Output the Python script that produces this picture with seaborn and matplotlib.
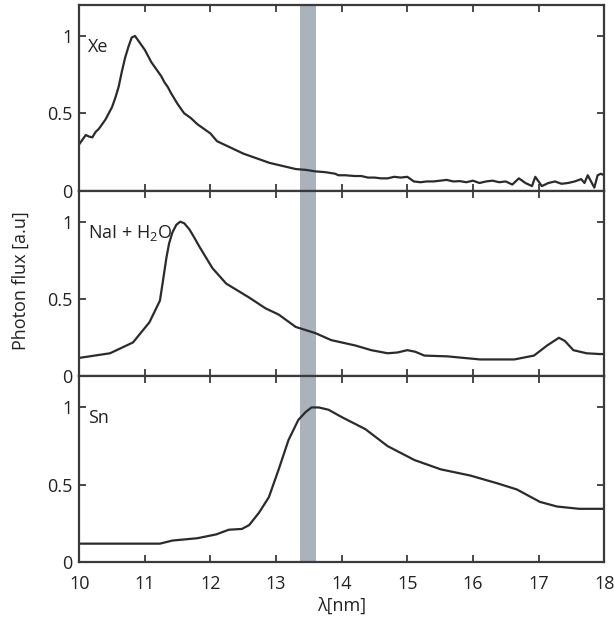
import matplotlib
matplotlib.use("Agg")
import matplotlib.pyplot as plt
import seaborn as sns
import pandas as pd

# Xe spectrum (noisy)
xe_wl = [10.0, 10.05, 10.1, 10.15, 10.2, 10.25, 10.3, 10.35, 10.4, 10.45, 10.5, 10.55,
         10.6, 10.65, 10.7, 10.75, 10.8, 10.85, 10.9, 10.95, 11.0, 11.05, 11.1, 11.15,
         11.2, 11.25, 11.3, 11.35, 11.4, 11.5, 11.6, 11.7, 11.8, 11.9, 12.0, 12.1, 12.2,
         12.3, 12.4, 12.5, 12.6, 12.7, 12.8, 12.9, 13.0, 13.1, 13.2, 13.3, 13.45, 13.6,
         13.75, 13.9, 13.95, 14.05, 14.2, 14.3, 14.4, 14.5, 14.6, 14.7, 14.8, 14.9, 15.0,
         15.1, 15.2, 15.3, 15.4, 15.5, 15.6, 15.7, 15.8, 15.9, 16.0, 16.1, 16.2, 16.3,
         16.4, 16.5, 16.6, 16.7, 16.8, 16.9, 16.95, 17.05, 17.15, 17.25, 17.35, 17.45,
         17.55, 17.65, 17.7, 17.75, 17.8, 17.85, 17.9, 17.95, 18.0]
xe_flux = [0.30, 0.33, 0.36, 0.35, 0.345, 0.38, 0.40, 0.43, 0.46, 0.50, 0.54, 0.60,
           0.67, 0.77, 0.86, 0.93, 0.99, 1.00, 0.97, 0.94, 0.91, 0.87, 0.83, 0.80,
           0.77, 0.74, 0.70, 0.67, 0.63, 0.56, 0.50, 0.47, 0.43, 0.40, 0.37, 0.32, 0.30,
           0.28, 0.26, 0.24, 0.225, 0.21, 0.195, 0.18, 0.17, 0.16, 0.15, 0.14, 0.135, 0.125,
           0.12, 0.11, 0.10, 0.10, 0.095, 0.095, 0.085, 0.085, 0.08, 0.08, 0.09, 0.085, 0.09,
           0.06, 0.055, 0.06, 0.06, 0.065, 0.07, 0.06, 0.062, 0.055, 0.065, 0.05, 0.06, 0.065,
           0.055, 0.06, 0.04, 0.08, 0.05, 0.03, 0.09, 0.03, 0.05, 0.06, 0.045, 0.05,
           0.06, 0.075, 0.05, 0.10, 0.06, 0.02, 0.10, 0.11, 0.10]

# NaI + H2O spectrum
nai_wl = [10.0, 10.47, 10.82, 11.07, 11.15, 11.23, 11.27, 11.33, 11.37, 11.42, 11.48,
          11.54, 11.6, 11.68, 11.75, 11.83, 12.03, 12.24, 12.59, 12.84, 13.04, 13.3, 13.6,
          13.84, 14.21, 14.45, 14.7, 14.85, 15.0, 15.12, 15.26, 15.61, 16.11, 16.63, 16.93,
          17.13, 17.31, 17.4, 17.53, 17.73, 17.93, 18.0]
nai_flux = [0.12, 0.15, 0.22, 0.35, 0.42, 0.49, 0.60, 0.77, 0.86, 0.93, 0.98,
            1.00, 0.99, 0.95, 0.90, 0.84, 0.70, 0.60, 0.51, 0.44, 0.40, 0.32, 0.28,
            0.235, 0.20, 0.17, 0.15, 0.155, 0.17, 0.16, 0.135, 0.13, 0.11, 0.11, 0.135,
            0.20, 0.25, 0.23, 0.17, 0.15, 0.145, 0.145]

# Sn spectrum
sn_wl = [10.0, 10.6, 11.23, 11.42, 11.8, 12.09, 12.28, 12.48, 12.59, 12.74, 12.89,
         13.04, 13.19, 13.34, 13.45, 13.54, 13.65, 13.8, 13.99, 14.36, 14.7, 15.11, 15.51,
         15.96, 16.37, 16.67, 17.02, 17.28, 17.62, 17.93, 18.0]
sn_flux = [0.12, 0.12, 0.12, 0.14, 0.155, 0.18, 0.21, 0.215, 0.24, 0.32, 0.42,
           0.60, 0.79, 0.92, 0.97, 1.00, 1.00, 0.985, 0.94, 0.86, 0.75, 0.66, 0.60,
           0.56, 0.51, 0.47, 0.39, 0.36, 0.345, 0.345, 0.345]

labels = ["Xe", "NaI + H$_\\mathregular{2}$O", "Sn"]
series = [(xe_wl, xe_flux), (nai_wl, nai_flux), (sn_wl, sn_flux)]
band = (13.37, 13.61)

sns.set_style("ticks")
plt.rcParams['font.family'] = ['Open Sans', 'DejaVu Sans']
plt.rcParams['mathtext.fontset'] = 'custom'
plt.rcParams['mathtext.rm'] = 'Open Sans'

edge = "#3a3a3a"
fs = 13
fig, axes = plt.subplots(3, 1, figsize=(6.14, 6.24), dpi=100, sharex=True)
fig.subplots_adjust(left=0.129, right=0.984, top=0.992, bottom=0.099, hspace=0)

for ax, (wl, fl), lab in zip(axes, series, labels):
    df = pd.DataFrame({"wl": wl, "flux": fl})
    ax.axvspan(*band, color="#aab2bc", lw=0, zorder=0)
    sns.lineplot(data=df, x="wl", y="flux", ax=ax, color="#2b2b2b", lw=1.6)
    ax.set_xlim(10, 18)
    ax.set_ylim(0, 1.2)
    ax.set_yticks([0, 0.5, 1])
    ax.set_yticklabels(["0", "0.5", "1"])
    ax.set_xticks(range(10, 19))
    ax.tick_params(direction="in", top=True, right=True, length=5, width=1.3,
                   color=edge, labelsize=fs, labelcolor="#222222")
    ax.tick_params(axis="y", pad=5)
    ax.tick_params(axis="x", pad=9)
    for s in ax.spines.values():
        s.set_color(edge)
        s.set_linewidth(1.6)
    ax.set_xlabel("")
    ax.set_ylabel("")
    ax.text(10.13, 0.93, lab, fontsize=fs, color="#222222", va="center", ha="left")

axes[-1].set_xticklabels([str(v) for v in range(10, 19)])
axes[-1].set_xlabel("λ[nm]", fontsize=fs, color="#222222", labelpad=3)
fig.supylabel("Photon flux [a.u]", fontsize=fs, color="#222222", x=0.02, y=0.55)

fig.savefig("out.png", dpi=100)
